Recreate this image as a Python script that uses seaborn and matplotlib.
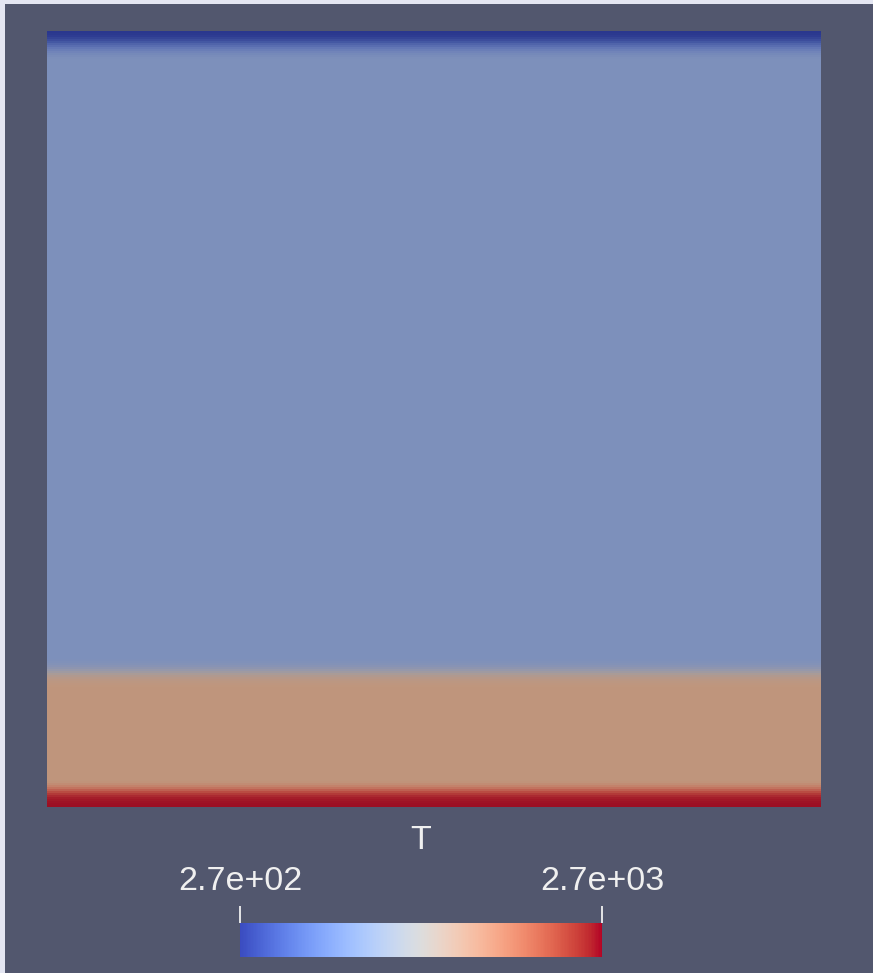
import numpy as np
import pandas as pd
import matplotlib
matplotlib.use("Agg")
import matplotlib.pyplot as plt
from matplotlib.colors import LinearSegmentedColormap, Normalize
from matplotlib.cm import ScalarMappable
from matplotlib.patches import Rectangle
import seaborn as sns

# Temperature profile through the slab, top (cold wall) to bottom (hot wall).
# Each entry is one 2-pixel-high row of the rendered field.
T_MIN, T_MAX = 270.0, 2700.0
t_top_layer = [270, 280, 300, 340, 390, 450, 520, 590, 650, 710, 760, 800, 825, 840, 850]
t_interior = 850
n_interior = 299
t_interface = [870, 900, 950, 1020, 1120, 1240, 1370, 1500, 1620, 1730, 1820, 1890,
               1940, 1965, 1970]
t_lower = 1970
n_lower = 46
t_bottom_layer = [1990, 2040, 2110, 2190, 2270, 2350, 2430, 2500, 2570, 2620, 2660, 2690, 2700]

field_label = "T"
n_columns = 4

BG = "#52576e"
FRAME = "#e4e6f2"
TEXT = "#f0f0f0"

profile = (t_top_layer + [t_interior] * n_interior + t_interface
           + [t_lower] * n_lower + t_bottom_layer)
field = pd.DataFrame(np.repeat(np.array(profile, dtype=float)[:, None], n_columns, axis=1))

# Lit (shaded) rendering of the cool-to-warm map used for the surface itself
lit_stops = [
    (0.00, (42, 55, 142)),
    (0.08, (72, 92, 166)),
    (0.16, (100, 120, 182)),
    (0.24, (125, 144, 187)),
    (0.40, (150, 152, 170)),
    (0.50, (168, 155, 152)),
    (0.60, (182, 152, 137)),
    (0.70, (191, 150, 125)),
    (0.78, (196, 122, 100)),
    (0.86, (185, 75, 65)),
    (0.93, (168, 35, 45)),
    (1.00, (155, 15, 35)),
]
lit_cmap = LinearSegmentedColormap.from_list(
    "lit_coolwarm", [(p, tuple(v / 255 for v in c)) for p, c in lit_stops])

sns.set_theme(style="white")
plt.rcParams["font.family"] = ["Liberation Sans", "DejaVu Sans"]

W, H = 873, 973
fig = plt.figure(figsize=(W / 100, H / 100), dpi=100, facecolor=BG)

# window frame strips along the top and left edges
fig.patches.append(Rectangle((0, 1 - 4 / H), 1, 4 / H, transform=fig.transFigure,
                             facecolor=FRAME, edgecolor="none", zorder=0))
fig.patches.append(Rectangle((0, 0), 5 / W, 1, transform=fig.transFigure,
                             facecolor=FRAME, edgecolor="none", zorder=0))

ax = fig.add_axes([47 / W, (H - 807) / H, 774 / W, 776 / H])
ax.set_facecolor(BG)
sns.heatmap(field, ax=ax, cmap=lit_cmap, vmin=T_MIN, vmax=T_MAX, cbar=False,
            xticklabels=False, yticklabels=False)
for s in ax.spines.values():
    s.set_visible(False)

# scalar bar
cax = fig.add_axes([240 / W, (H - 957) / H, 362 / W, 34 / H])
sm = ScalarMappable(norm=Normalize(T_MIN, T_MAX), cmap="coolwarm")
cb = fig.colorbar(sm, cax=cax, orientation="horizontal", ticks=[T_MIN, T_MAX])
cb.outline.set_visible(False)
cax.xaxis.set_ticks_position("top")
cax.xaxis.set_label_position("top")
cax.set_xticklabels([f"{v:.1e}" for v in (T_MIN, T_MAX)])
cax.tick_params(axis="x", direction="out", length=12, width=1.3, colors=TEXT,
                labelsize=24.5, pad=7, labelcolor=TEXT)

fig.text((240 + 602) / 2 / W, (H - 849) / H, field_label, ha="center", va="baseline",
         color=TEXT, fontsize=24.5)

fig.savefig("out.png", dpi=100, facecolor=BG)
